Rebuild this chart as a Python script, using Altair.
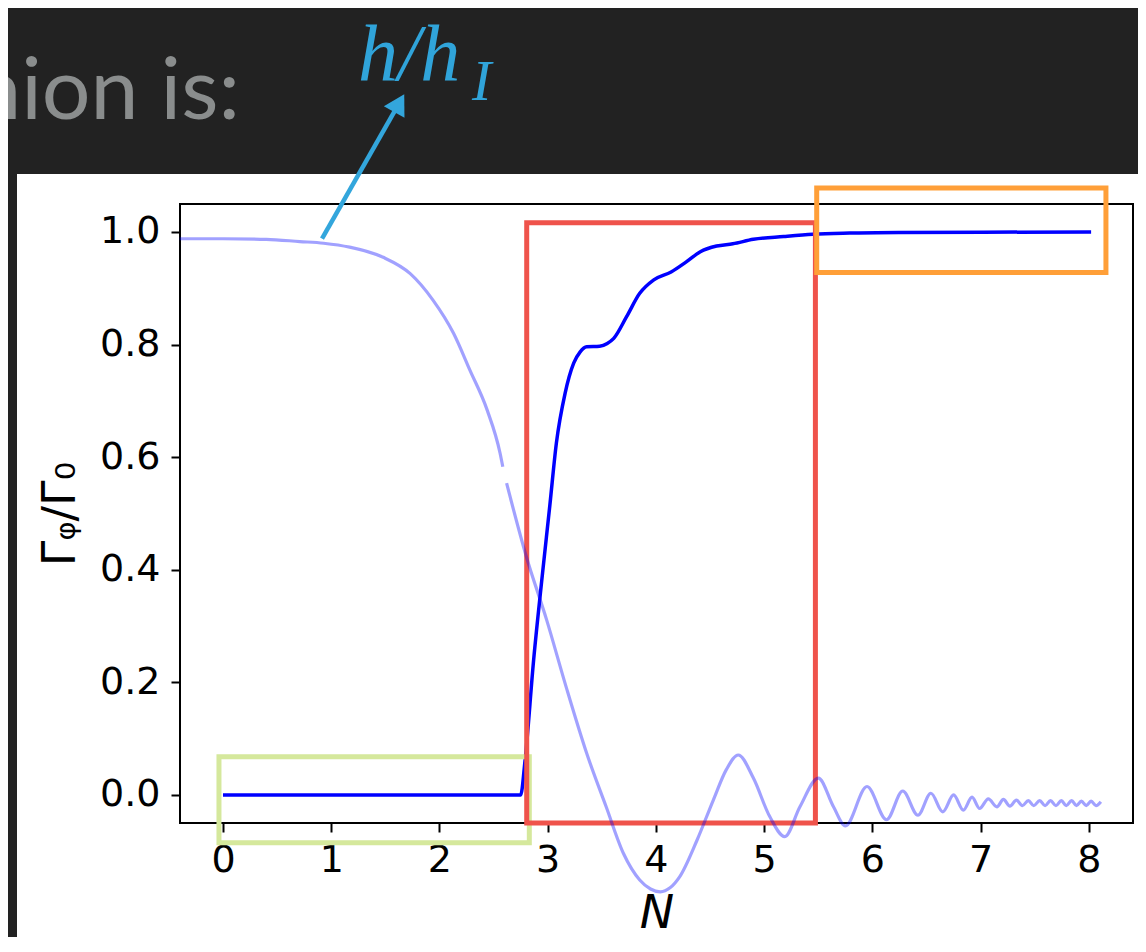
import altair as alt
import pandas as pd

# ---- data ----
# dark curve: Gamma_phi / Gamma_0 vs N
N_dark = [0.0, 2.75, 2.79, 2.87, 2.95, 3.02, 3.08, 3.16, 3.24, 3.30, 3.36, 3.48, 3.55,
          3.61, 3.73, 3.85, 3.98, 4.14, 4.28, 4.41, 4.56, 4.71, 4.90, 5.18, 5.45, 5.79,
          6.25, 8.02]
G_dark = [0.0, 0.0, 0.06, 0.24, 0.39, 0.515, 0.625, 0.713, 0.767, 0.787, 0.796, 0.797,
          0.802, 0.811, 0.850, 0.891, 0.915, 0.929, 0.947, 0.965, 0.975, 0.979, 0.987,
          0.992, 0.996, 0.998, 0.999, 1.0]

# light curve: h / h_I vs N (two pieces, small gap near N=2.6)
N_light_a = [-0.40, 0.00, 0.40, 0.71, 0.93, 1.17, 1.48, 1.73, 1.94, 2.13, 2.28, 2.44,
             2.56, 2.585]
H_light_a = [0.988, 0.988, 0.987, 0.983, 0.980, 0.973, 0.955, 0.926, 0.879, 0.820,
             0.755, 0.684, 0.607, 0.583]
N_light_b = [2.62, 2.80, 2.99, 3.17, 3.36, 3.54, 3.70, 3.85, 3.95, 4.04, 4.13, 4.22,
             4.38, 4.53, 4.65, 4.76, 4.90, 5.05, 5.19, 5.33, 5.50, 5.64, 5.75, 5.95,
             6.13, 6.28, 6.42, 6.54, 6.65, 6.75, 6.84, 6.92, 6.99, 7.07, 7.15, 7.21,
             7.27, 7.33, 7.385, 7.44, 7.49, 7.545, 7.595, 7.645, 7.695, 7.745, 7.79,
             7.84, 7.885, 7.93, 7.975, 8.02, 8.065, 8.11]
H_light_b = [0.554, 0.425, 0.311, 0.192, 0.074, -0.021, -0.104, -0.151, -0.167, -0.172,
             -0.165, -0.145, -0.080, -0.009, 0.045, 0.071, 0.030, -0.038, -0.074, -0.021,
             0.030, -0.021, -0.055, 0.015, -0.044, 0.007, -0.036, 0.003, -0.030, 0.000,
             -0.027, -0.004, -0.024, -0.007, -0.021, -0.008, -0.020, -0.009, -0.019,
             -0.010, -0.019, -0.010, -0.019, -0.010, -0.019, -0.010, -0.019, -0.010,
             -0.019, -0.011, -0.019, -0.011, -0.019, -0.012]

# highlight boxes
box_names = ["low", "transition", "high"]
box_N1 = [-0.037, 2.806, 5.485]
box_N2 = [2.83, 5.473, 8.157]
box_v1 = [-0.085, -0.050, 0.928]
box_v2 = [0.068, 1.0165, 1.078]
box_colors = ["#d5e89c", "#ef534b", "#ff9f38"]

# annotation arrow (start on light curve, head) and label
arrow_N = [0.915, 1.628]
arrow_v = [0.988, 1.229]
label_main = "h/h"
label_sub = "I"
label_pos_N = [1.247, 2.30]
label_pos_v = [1.270, 1.2345]
slide_text = "hion is:"

x_ticks = [0, 1, 2, 3, 4, 5, 6, 7, 8]
y_ticks = [0.0, 0.2, 0.4, 0.6, 0.8, 1.0]

# ---- tables ----
dark_df = pd.DataFrame({"N": N_dark, "v": G_dark})
light_df = pd.DataFrame({
    "N": N_light_a + N_light_b,
    "v": H_light_a + H_light_b,
    "seg": ["a"] * len(N_light_a) + ["b"] * len(N_light_b),
})
box_df = pd.DataFrame({"name": box_names, "N": box_N1, "N2": box_N2,
                       "v": box_v1, "v2": box_v2})
arrow_df = pd.DataFrame({"N": arrow_N, "v": arrow_v})
head_df = arrow_df.iloc[[1]]

W, H = 953, 619
xscale = alt.Scale(domain=[-0.397, 8.407], nice=False, zero=False)
yscale = alt.Scale(domain=[-0.0498, 1.0497], nice=False, zero=False)

xaxis = alt.Axis(
    title="N", values=x_ticks, format="d", grid=False, domain=False,
    tickSize=9, tickWidth=2, tickColor="black",
    labelFont="DejaVu Sans", labelFontSize=38, labelColor="black", labelPadding=9,
    labelFlush=False, labelOverlap=False,
    titleFont="DejaVu Sans", titleFontSize=46, titleFontStyle="italic",
    titleFontWeight="normal", titleColor="black",
    titleX=W / 2, titleY=104, titleAlign="center", titleBaseline="alphabetic",
)
yaxis = alt.Axis(
    title="Γᵩ/Γ₀", values=y_ticks, format=".1f", grid=False, domain=False,
    tickSize=9, tickWidth=2, tickColor="black",
    labelFont="DejaVu Sans", labelFontSize=38, labelColor="black", labelPadding=11,
    labelFlush=False, labelOverlap=False,
    titleFont="DejaVu Sans", titleFontSize=46, titleFontWeight="normal",
    titleColor="black", titleAngle=270,
    titleX=-120, titleY=H / 2, titleAlign="center", titleBaseline="middle",
)

X = alt.X("N:Q", scale=xscale, axis=xaxis)
Y = alt.Y("v:Q", scale=yscale, axis=yaxis)

one = alt.Data(values=[{}])

# slide decoration: dark top band, dark left strip, slide text
band_top = alt.Chart(one).mark_rect(color="#222222", clip=False).encode(
    x=alt.value(-200), x2=alt.value(990), y=alt.value(-220), y2=alt.value(-30))
band_left = alt.Chart(one).mark_rect(color="#222222", clip=False).encode(
    x=alt.value(-200), x2=alt.value(-163), y=alt.value(-30), y2=alt.value(760))
slide_lbl = alt.Chart(one).mark_text(
    align="right", baseline="alphabetic", font="Lato", fontSize=86,
    color="#8a8d8d", clip=False).encode(
    x=alt.value(60), y=alt.value(-85), text=alt.value(slide_text))

dark = alt.Chart(dark_df).mark_line(
    color="#0000ff", strokeWidth=3.5, interpolate="monotone", clip=False
).encode(x=X, y=Y)

boxes = alt.Chart(box_df).mark_rect(filled=False, strokeWidth=5, clip=False).encode(
    x=X, x2="N2:Q", y=Y, y2="v2:Q",
    stroke=alt.Stroke("name:N", scale=alt.Scale(domain=box_names, range=box_colors),
                      legend=None),
)

light = alt.Chart(light_df).mark_line(
    color="#0000ff", opacity=0.37, strokeWidth=3.2, interpolate="monotone", clip=False
).encode(x=X, y=Y, detail="seg:N")

arrow_line = alt.Chart(arrow_df).mark_line(
    color="#33a6dc", strokeWidth=4.5, clip=False).encode(x=X, y=Y)
arrow_head = alt.Chart(head_df).mark_point(
    shape="triangle-up", filled=True, size=560, angle=29.5, color="#33a6dc",
    opacity=1, clip=False).encode(x=X, y=Y)

lab1 = alt.Chart(pd.DataFrame({"N": [label_pos_N[0]], "v": [label_pos_v[0]],
                               "t": [label_main]})).mark_text(
    align="left", baseline="alphabetic", font="Liberation Serif", fontStyle="italic",
    fontSize=80, color="#30a4da", clip=False).encode(x=X, y=Y, text="t:N")
lab2 = alt.Chart(pd.DataFrame({"N": [label_pos_N[1]], "v": [label_pos_v[1]],
                               "t": [label_sub]})).mark_text(
    align="left", baseline="alphabetic", font="Liberation Serif", fontStyle="italic",
    fontSize=58, color="#30a4da", clip=False).encode(x=X, y=Y, text="t:N")

chart = alt.layer(
    band_top, band_left, slide_lbl, dark, boxes, light, arrow_line, arrow_head, lab1, lab2
).properties(
    width=W, height=H,
    padding={"left": 172, "top": 196, "right": 5, "bottom": 114},
    autosize=alt.AutoSizeParams(type="none"),
    background="white",
).configure_view(stroke="black", strokeWidth=2)

chart.save("out.html", embed_options={"renderer": "svg", "actions": False})
